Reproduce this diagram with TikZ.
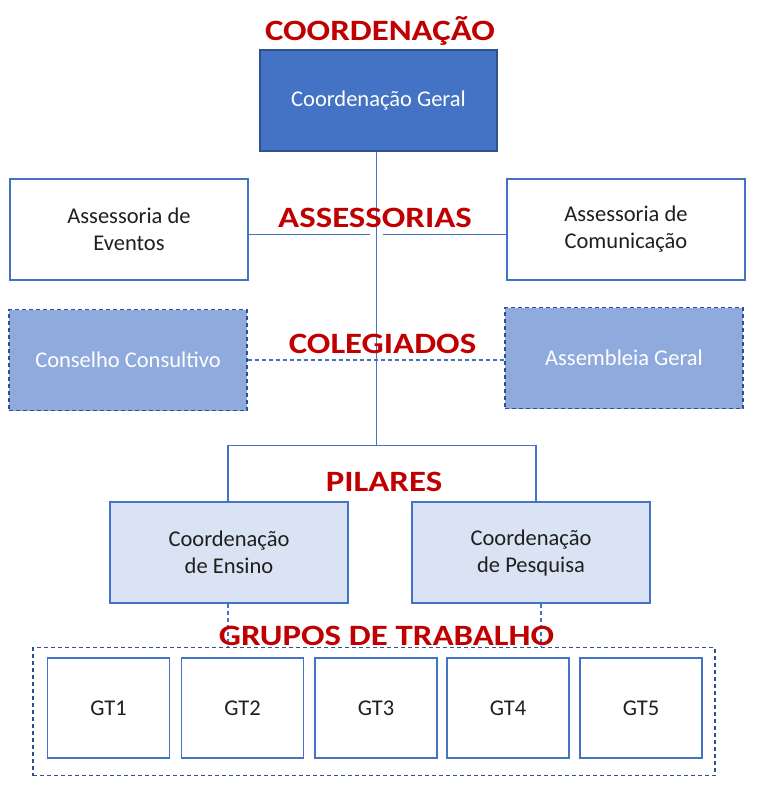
\documentclass[tikz,border=0pt]{standalone}
\usepackage{fontspec}
\setmainfont{Carlito}
\newfontfamily\titlefont[FakeStretch=1.18]{Carlito}
\definecolor{escuro}{HTML}{2F528F}
\definecolor{azul}{HTML}{4472C4}
\definecolor{medio}{HTML}{8FAADC}
\definecolor{claro}{HTML}{DAE3F3}
\definecolor{vermelho}{HTML}{C00000}
\begin{document}
\begin{tikzpicture}[x=1pt,y=-1pt,
	caixa/.style={draw=azul, line width=1.4pt, minimum width=238pt, minimum height=101pt, inner sep=2pt, align=center, text=black!88, font=\fontsize{22.5}{27}\selectfont},
	titulo/.style={text=vermelho, anchor=base, inner sep=0pt, font=\titlefont\bfseries\fontsize{29.5}{29.5}\selectfont},
	ligacao/.style={draw=azul, line width=1.4pt},
	tracejado/.style={dash pattern=on 4pt off 3pt}]
	\useasboundingbox (0,0) rectangle (759,798);
	\node[caixa, fill=azul, draw=escuro, text=white, minimum width=237pt] (cg) at (378.5,100.5) {Coordenação Geral};
	\node[caixa] (ae) at (129,229.5) {Assessoria de\\Eventos};
	\node[caixa] (ac) at (626,229.5) {Assessoria de\\Comunicação};
	\node[caixa, fill=medio, draw=escuro, tracejado, text=white] (cc) at (128,360) {Conselho Consultivo};
	\node[caixa, fill=medio, draw=escuro, tracejado, text=white] (ag) at (624,358) {Assembleia Geral};
	\node[caixa, fill=claro] (ce) at (229,552.5) {Coordenação\\de Ensino};
	\node[caixa, fill=claro] (cp) at (531,552.5) {Coordenação\\de Pesquisa};
	\node[draw=escuro, line width=1.4pt, tracejado, minimum width=682pt, minimum height=128pt] (gts) at (374,711.5) {};
	\foreach \i/\x in {1/108.5,2/242.5,3/376,4/508,5/641}{
		\node[caixa, minimum width=122pt, minimum height=100pt] (gt\i) at (\x,708) {GT\i};}
	\coordinate (jun) at (376.5,445.5);
	\coordinate (fe) at (370,234.5);
	\coordinate (fd) at (382.5,234.5);
	\draw[ligacao] (jun |- cg.south) -- (jun);
	\draw[ligacao] ([xshift=-1pt]ce.north) |- (jun) -| ([xshift=5pt]cp.north);
	\draw[ligacao] (fe -| ae.east) -- (fe);
	\draw[ligacao] (fd) -- (fd -| ac.west);
	\draw[ligacao, tracejado] (cc.east) -- (cc.east -| ag.west);
	\draw[ligacao, tracejado] ([xshift=-1pt]ce.south) -- ([xshift=-1pt]ce.south |- gts.north);
	\draw[ligacao, tracejado] ([xshift=10pt]cp.south) -- ([xshift=10pt]cp.south |- gts.north);
	\node[titulo] (t1) at (380,40) {COORDENAÇÃO};
	\node[titulo] (t2) at (375,227) {ASSESSORIAS};
	\node[titulo] (t3) at (382.5,353) {COLEGIADOS};
	\node[titulo] (t4) at (384,491) {PILARES};
	\node[titulo] (t5) at (386.5,645) {GRUPOS DE TRABALHO};
\end{tikzpicture}
\end{document}
